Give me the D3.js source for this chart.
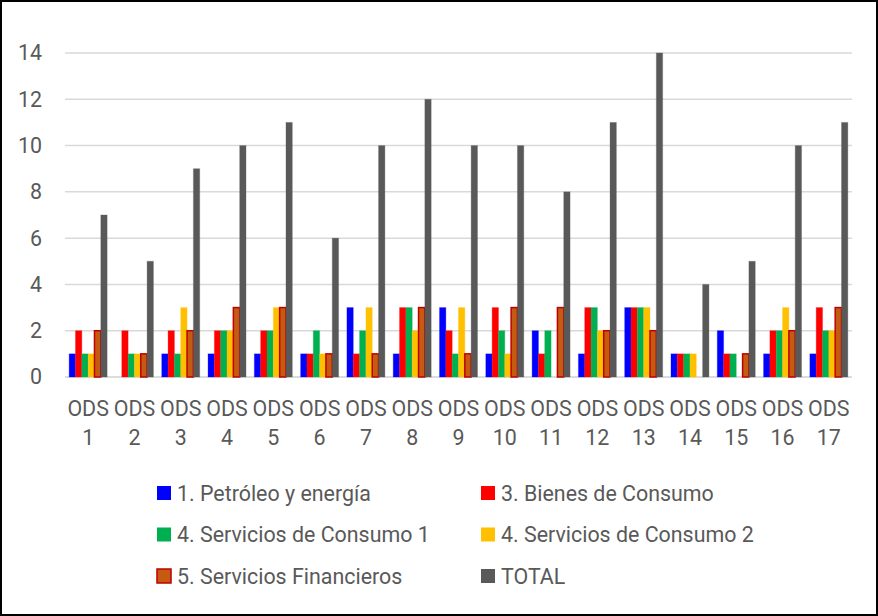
<!DOCTYPE html>
<html>
<head>
<meta charset="utf-8">
<script src="https://cdn.jsdelivr.net/npm/d3@7"></script>
<style>
  body { margin: 0; background: white; }
  text { font-family: Roboto, "Liberation Sans", sans-serif; fill: #595959; font-size: 21.4px; }
</style>
</head>
<body>
<div id="chart"></div>
<script>
// categories and series
var categories = ["1","2","3","4","5","6","7","8","9","10","11","12","13","14","15","16","17"];
var petroleo    = [1,0,1,1,1,1,3,1,3,1,2,1,3,1,2,1,1];
var bienes      = [2,2,2,2,2,1,1,3,2,3,1,3,3,1,1,2,3];
var servicios1  = [1,1,1,2,2,2,2,3,1,2,2,3,3,1,1,2,2];
var servicios2  = [1,1,3,2,3,1,3,2,3,1,0,2,3,1,0,3,2];
var financieros = [2,1,2,3,3,1,1,3,1,3,3,2,2,0,1,2,3];
var total       = [7,5,9,10,11,6,10,12,10,10,8,11,14,4,5,10,11];
var yTicks = [0,2,4,6,8,10,12,14];

var series = [
  {name: "1. Petróleo y energía",      values: petroleo,    fill: "#0000FF"},
  {name: "3. Bienes de Consumo",        values: bienes,      fill: "#FF0000"},
  {name: "4. Servicios de Consumo 1",   values: servicios1,  fill: "#00B050"},
  {name: "4. Servicios de Consumo 2",   values: servicios2,  fill: "#FFC000"},
  {name: "5. Servicios Financieros",    values: financieros, fill: "#C55A11", stroke: "#C00000"},
  {name: "TOTAL",                       values: total,       fill: "#595959"}
];

var W = 878, H = 616;
var plot = {left: 65, right: 852, top: 53, bottom: 377};

var svg = d3.select("#chart").append("svg")
    .attr("width", W)
    .attr("height", H);

svg.append("rect")
    .attr("x", 0).attr("y", 0)
    .attr("width", W).attr("height", H)
    .attr("fill", "white");

// scales
var x0 = d3.scaleBand()
    .domain(categories)
    .range([plot.left, plot.right])
    .paddingInner(0.18)
    .paddingOuter(0.09);

var x1 = d3.scaleBand()
    .domain(series.map(function(s) { return s.name; }))
    .range([0, x0.bandwidth()]);

var y = d3.scaleLinear().domain([0, 14]).range([plot.bottom, plot.top]);

// gridlines
svg.append("g").selectAll("line")
    .data(yTicks)
    .enter().append("line")
    .attr("x1", plot.left).attr("x2", plot.right)
    .attr("y1", function(d) { return y(d); })
    .attr("y2", function(d) { return y(d); })
    .attr("stroke", function(d) { return d === 0 ? "#D0D0D0" : "#D9D9D9"; })
    .attr("stroke-width", 1.5);

// y labels
svg.append("g").selectAll("text")
    .data(yTicks)
    .enter().append("text")
    .attr("x", 42)
    .attr("y", function(d) { return y(d); })
    .attr("dy", "0.35em")
    .attr("text-anchor", "end")
    .text(function(d) { return d; });

// bars
var groups = svg.append("g").selectAll("g")
    .data(categories)
    .enter().append("g")
    .attr("transform", function(d) { return "translate(" + x0(d) + ",0)"; });

groups.selectAll("rect")
    .data(function(d, i) {
      return series.map(function(s) { return {s: s, v: s.values[i]}; });
    })
    .enter().append("rect")
    .attr("x", function(d) { return x1(d.s.name); })
    .attr("y", function(d) { return y(d.v); })
    .attr("width", x1.bandwidth())
    .attr("height", function(d) { return y(0) - y(d.v); })
    .attr("fill", function(d) { return d.s.fill; })
    .attr("stroke", function(d) { return d.s.stroke || d.s.fill; })
    .attr("stroke-opacity", function(d) { return d.s.stroke ? 1 : 0.3; })
    .attr("stroke-width", function(d) { return d.s.stroke ? 1.5 : 1; });

// x labels, two lines each
var xl = svg.append("g").selectAll("text")
    .data(categories)
    .enter().append("text")
    .attr("text-anchor", "middle");

xl.append("tspan")
    .attr("x", function(d) { return x0(d) + x0.bandwidth() / 2; })
    .attr("y", 416)
    .text("ODS");
xl.append("tspan")
    .attr("x", function(d) { return x0(d) + x0.bandwidth() / 2; })
    .attr("y", 445)
    .text(function(d) { return d; });

// legend, two columns
var legend = svg.append("g").selectAll("g")
    .data(series)
    .enter().append("g")
    .attr("transform", function(d, i) {
      return "translate(" + (i % 2 === 0 ? 157 : 481) + "," + (493 + Math.floor(i / 2) * 41.5) + ")";
    });

legend.append("rect")
    .attr("x", 0).attr("y", -7)
    .attr("width", 14).attr("height", 14)
    .attr("fill", function(d) { return d.fill; })
    .attr("stroke", function(d) { return d.stroke || "none"; })
    .attr("stroke-width", 1.5);

legend.append("text")
    .attr("x", 20)
    .attr("dy", "0.36em")
    .text(function(d) { return d.name; });

// chart border
svg.append("rect")
    .attr("x", 1).attr("y", 1)
    .attr("width", W - 2).attr("height", H - 2)
    .attr("fill", "none")
    .attr("stroke", "black")
    .attr("stroke-width", 2);
</script>
</body>
</html>
